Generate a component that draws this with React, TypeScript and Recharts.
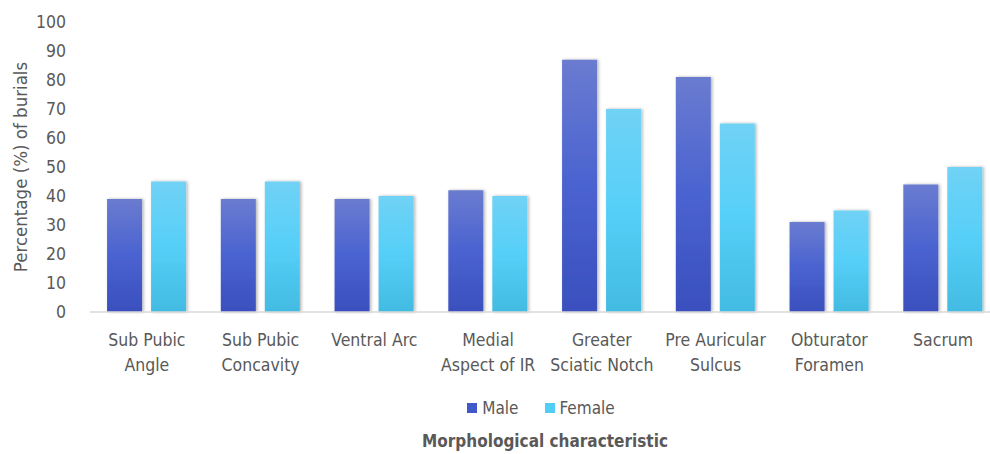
import React from 'react';
import { BarChart, Bar, XAxis, YAxis, Legend, Label } from 'recharts';

const categories = [
  'Sub Pubic\nAngle',
  'Sub Pubic\nConcavity',
  'Ventral Arc',
  'Medial\nAspect of IR',
  'Greater\nSciatic Notch',
  'Pre Auricular\nSulcus',
  'Obturator\nForamen',
  'Sacrum',
];
const maleValues = [39, 39, 39, 42, 87, 81, 31, 44];
const femaleValues = [45, 45, 40, 40, 70, 65, 35, 50];
const yTicks = [0, 10, 20, 30, 40, 50, 60, 70, 80, 90, 100];

const data = categories.map((name, i) => ({ name, male: maleValues[i], female: femaleValues[i] }));

const FONT = '"Liberation Sans Narrow", "DejaVu Sans Condensed", Lato, sans-serif';
const GREY = '#595959';

const CategoryTick = ({ x, y, payload }: any) => {
  const lines = String(payload.value).split('\n');
  return (
    <text x={x} y={y + 26} textAnchor="middle" fill={GREY} fontSize={17.5} fontFamily={FONT}>
      {lines.map((l, i) => (
        <tspan key={i} x={x} dy={i === 0 ? 0 : 25}>{l}</tspan>
      ))}
    </text>
  );
};

const LegendContent = () => (
  <div style={{ display: 'flex', justifyContent: 'center', fontFamily: FONT, fontSize: 17, color: GREY, paddingLeft: 82, paddingTop: 10 }}>
    <span style={{ display: 'flex', alignItems: 'center', marginRight: 26 }}>
      <span style={{ width: 10, height: 10, background: '#4158c9', marginRight: 5 }} />Male
    </span>
    <span style={{ display: 'flex', alignItems: 'center' }}>
      <span style={{ width: 10, height: 10, background: '#52cdf5', marginRight: 5 }} />Female
    </span>
  </div>
);

const YLabel = ({ viewBox }: any) => {
  const cy = viewBox.y + viewBox.height / 2;
  return (
    <text x={20} y={cy} transform={`rotate(-90, 20, ${cy})`} textAnchor="middle" dominantBaseline="central"
      fill={GREY} fontSize={18.5} fontFamily={FONT}>
      Percentage (%) of burials
    </text>
  );
};

export default function App() {
  return (
    <div style={{ position: 'absolute', left: 0, top: 0, width: 990, height: 454, background: '#fff', overflow: 'hidden' }}>
      <BarChart width={1000} height={454} data={data}
        margin={{ top: 22, right: 0, left: 0, bottom: 32 }}
        barCategoryGap="15%" barGap={9}>
        <defs>
          <linearGradient id="gMale" x1="0" y1="0" x2="0" y2="1">
            <stop offset="0%" stopColor="#6a7bd0" />
            <stop offset="50%" stopColor="#4a63d0" />
            <stop offset="100%" stopColor="#3a4fbd" />
          </linearGradient>
          <linearGradient id="gFemale" x1="0" y1="0" x2="0" y2="1">
            <stop offset="0%" stopColor="#70d2f5" />
            <stop offset="50%" stopColor="#56cff8" />
            <stop offset="100%" stopColor="#42bbe2" />
          </linearGradient>
          <filter id="shadow" x="-20%" y="-5%" width="140%" height="110%">
            <feDropShadow dx="1.5" dy="0" stdDeviation="1.5" floodColor="#000" floodOpacity="0.3" />
          </filter>
        </defs>
        <XAxis dataKey="name" interval={0} height={76} tickLine={false}
          axisLine={{ stroke: '#d9d9d9', strokeWidth: 1.5 }} tick={<CategoryTick />}>
          <Label position="bottom" offset={47} value="Morphological characteristic"
            fill={GREY} fontSize={17} fontWeight="bold" fontFamily={FONT} />
        </XAxis>
        <YAxis width={90} domain={[0, 100]} ticks={yTicks} interval={0} axisLine={false} tickLine={false}
          tick={{ fill: GREY, fontSize: 17.5, fontFamily: FONT }} tickMargin={18} label={<YLabel />} />
        <Legend verticalAlign="bottom" height={34} content={<LegendContent />} />
        <Bar dataKey="male" name="Male" fill="url(#gMale)" filter="url(#shadow)" isAnimationActive={false} />
        <Bar dataKey="female" name="Female" fill="url(#gFemale)" filter="url(#shadow)" isAnimationActive={false} />
      </BarChart>
    </div>
  );
}
